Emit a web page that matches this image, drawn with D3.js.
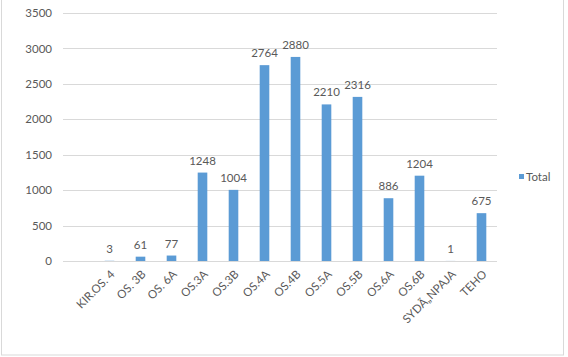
<!DOCTYPE html>
<html><head><meta charset="utf-8">
<script src="https://cdn.jsdelivr.net/npm/d3@7"></script>
<style>body{margin:0;background:#fff}svg{display:block}text{font-family:Lato,"Liberation Sans",sans-serif;fill:#595959}</style>
</head><body><svg id="c" width="568" height="357"></svg>
<script>
const categories = ["", "KIR.OS. 4", "OS. 3B", "OS. 6A", "OS.3A", "OS.3B", "OS.4A", "OS.4B", "OS.5A", "OS.5B", "OS.6A", "OS.6B", "SYDÃ„NPAJA", "TEHO"];
const values = [null, 3, 61, 77, 1248, 1004, 2764, 2880, 2210, 2316, 886, 1204, 1, 675];
const yTicks = [0, 500, 1000, 1500, 2000, 2500, 3000, 3500];
const seriesName = "Total";

const svg = d3.select("#c");
svg.append("rect").attr("x", 1.5).attr("y", -1).attr("width", 562).attr("height", 356)
  .attr("fill", "#fff").attr("stroke", "#d9d9d9");

const x = d3.scaleBand().domain(categories).range([63, 497]).paddingInner(0.69).paddingOuter(0.345);
const y = d3.scaleLinear().domain([0, 3500]).range([261, 13]);
const color = "#5b9bd5";

// gridlines
svg.append("g").selectAll("line").data(yTicks).join("line")
  .attr("x1", 63).attr("x2", 497)
  .attr("y1", d => Math.round(y(d)) + 0.5).attr("y2", d => Math.round(y(d)) + 0.5)
  .attr("stroke", "#d9d9d9");

// y axis labels
const yAxis = d3.axisLeft(y).tickValues(yTicks).tickSize(0).tickPadding(0).tickFormat(d3.format("d"));
const ga = svg.append("g").attr("transform", "translate(52,0)").call(yAxis);
ga.select(".domain").remove();
ga.selectAll("text").attr("font-size", "11.5px").attr("fill", "#595959").attr("font-family", "Lato");

// bars
const data = categories.map((c, i) => ({c, v: values[i]})).filter(d => d.v != null);
svg.append("g").selectAll("rect").data(data).join("rect")
  .attr("x", d => x(d.c)).attr("width", x.bandwidth())
  .attr("y", d => y(d.v)).attr("height", d => y(0) - y(d.v))
  .attr("fill", color);

// data labels
svg.append("g").selectAll("text").data(data).join("text")
  .attr("x", d => x(d.c) + x.bandwidth() / 2)
  .attr("y", d => y(d.v) - 8)
  .attr("text-anchor", "middle").attr("font-size", "11.5px").attr("fill", "#404040")
  .text(d => d.v);

// x axis labels
const xAxis = d3.axisBottom(x).tickSize(0).tickPadding(0);
const gx = svg.append("g").attr("transform", "translate(0,261)").call(xAxis);
gx.select(".domain").attr("stroke", "#d9d9d9").attr("d", "M63,0.5H497");
gx.selectAll("text").attr("font-size", "11.5px").attr("fill", "#595959").attr("font-family", "Lato")
  .attr("text-anchor", "end").attr("dy", null).attr("y", 0)
  .attr("transform", "translate(6,14) rotate(-45)");

// legend
const lg = svg.append("g");
lg.append("rect").attr("x", 519).attr("y", 174).attr("width", 5).attr("height", 5).attr("fill", color);
lg.append("text").attr("x", 526).attr("y", 180.5).attr("font-size", "11.5px").attr("fill", "#595959").text(seriesName);
</script></body></html>
